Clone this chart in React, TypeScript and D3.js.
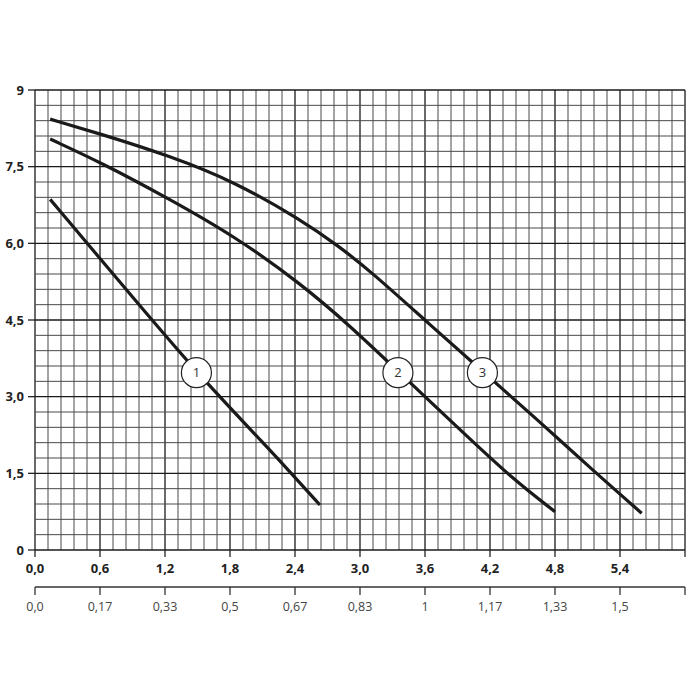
import React from "react";
import * as d3 from "d3";

const yTicks = [0, 1.5, 3.0, 4.5, 6.0, 7.5, 9];
const yTickLabels = ["0", "1,5", "3,0", "4,5", "6,0", "7,5", "9"];
const xTicks = [0, 0.6, 1.2, 1.8, 2.4, 3.0, 3.6, 4.2, 4.8, 5.4];
const xTickLabels = ["0,0", "0,6", "1,2", "1,8", "2,4", "3,0", "3,6", "4,2", "4,8", "5,4"];
const x2TickLabels = ["0,0", "0,17", "0,33", "0,5", "0,67", "0,83", "1", "1,17", "1,33", "1,5"];

const curve1: [number, number][] = [
  [0.14, 6.86], [0.8, 5.2], [1.49, 3.47], [2.15, 2.0], [2.4, 1.42], [2.63, 0.88],
];
const curve2: [number, number][] = [
  [0.14, 8.04], [0.62, 7.57], [1.23, 6.88], [1.85, 6.13], [2.46, 5.2],
  [2.9, 4.4], [3.35, 3.5], [3.95, 2.3], [4.42, 1.37], [4.8, 0.75],
];
const curve3: [number, number][] = [
  [0.14, 8.43], [0.62, 8.13], [1.23, 7.72], [1.85, 7.2],
  [2.46, 6.45], [2.8, 5.95], [3.1, 5.45], [3.65, 4.4], [4.13, 3.5],
  [4.6, 2.62], [5.18, 1.5], [5.6, 0.72],
];
const labels = [
  { n: "1", x: 1.49, y: 3.47 },
  { n: "2", x: 3.35, y: 3.47 },
  { n: "3", x: 4.13, y: 3.47 },
];

export default function App() {
  const x = d3.scaleLinear().domain([0, 6]).range([35, 685]);
  const y = d3.scaleLinear().domain([0, 9]).range([550, 90]);
  const line = d3
    .line<[number, number]>()
    .x((d) => x(d[0]))
    .y((d) => y(d[1]))
    .curve(d3.curveBasis);

  const vLines = d3.range(0, 51).map((i) => i * 0.12);
  const hLines = d3.range(0, 31).map((i) => i * 0.3);
  const font = "'Open Sans', 'Noto Sans', sans-serif";
  const x2y = 587;

  return (
    <svg width={700} height={700} style={{ display: "block", position: "absolute", left: 0, top: 0 }}>
      <rect width={700} height={700} fill="#fff" />
      {vLines.map((v, i) => (
        <line
          key={"v" + i}
          x1={x(v)}
          x2={x(v)}
          y1={y(0)}
          y2={y(9)}
          stroke={i % 5 === 0 ? "#1a1a1a" : "#4a4a4a"}
          strokeWidth={i % 5 === 0 ? 1.3 : 1}
        />
      ))}
      {hLines.map((v, i) => (
        <line
          key={"h" + i}
          x1={x(0)}
          x2={x(6)}
          y1={y(v)}
          y2={y(v)}
          stroke={i % 5 === 0 ? "#1a1a1a" : "#4a4a4a"}
          strokeWidth={i % 5 === 0 ? 1.3 : 1}
        />
      ))}
      {yTicks.map((t, i) => (
        <g key={"yt" + i}>
          <line x1={28} x2={x(0)} y1={y(t)} y2={y(t)} stroke="#222" strokeWidth={1.3} />
          <text
            x={24}
            y={y(t)}
            dy="0.36em"
            textAnchor="end"
            fontFamily={font}
            fontWeight="bold"
            fontSize={13}
            fill="#222"
          >
            {yTickLabels[i]}
          </text>
        </g>
      ))}
      {[...xTicks, 6].map((t, i) => (
        <line key={"xt" + i} x1={x(t)} x2={x(t)} y1={y(0)} y2={y(0) + 7} stroke="#222" strokeWidth={1.3} />
      ))}
      {xTicks.map((t, i) => (
        <text
          key={"xl" + i}
          x={x(t)}
          y={573}
          textAnchor="middle"
          fontFamily={font}
          fontWeight="bold"
          fontSize={13}
          fill="#222"
        >
          {xTickLabels[i]}
        </text>
      ))}
      <line x1={x(0)} x2={x(6)} y1={x2y} y2={x2y} stroke="#333" strokeWidth={1.3} />
      {[...xTicks, 6].map((t, i) => (
        <line key={"x2t" + i} x1={x(t)} x2={x(t)} y1={x2y} y2={x2y + 8} stroke="#333" strokeWidth={1.3} />
      ))}
      {xTicks.map((t, i) => (
        <text
          key={"x2l" + i}
          x={x(t)}
          y={611}
          textAnchor="middle"
          fontFamily={font}
          fontSize={12.5}
          fill="#444"
        >
          {x2TickLabels[i]}
        </text>
      ))}
      {[curve1, curve2, curve3].map((c, i) => (
        <path key={"c" + i} d={line(c) || ""} fill="none" stroke="#1a1a1a" strokeWidth={3.2} strokeLinecap="butt" />
      ))}
      {labels.map((l) => (
        <g key={"l" + l.n}>
          <circle cx={x(l.x)} cy={y(l.y)} r={15} fill="#fff" stroke="#222" strokeWidth={1.2} />
          <text
            x={x(l.x)}
            y={y(l.y)}
            dy="0.36em"
            textAnchor="middle"
            fontFamily={font}
            fontSize={13}
            fill="#333"
          >
            {l.n}
          </text>
        </g>
      ))}
    </svg>
  );
}
